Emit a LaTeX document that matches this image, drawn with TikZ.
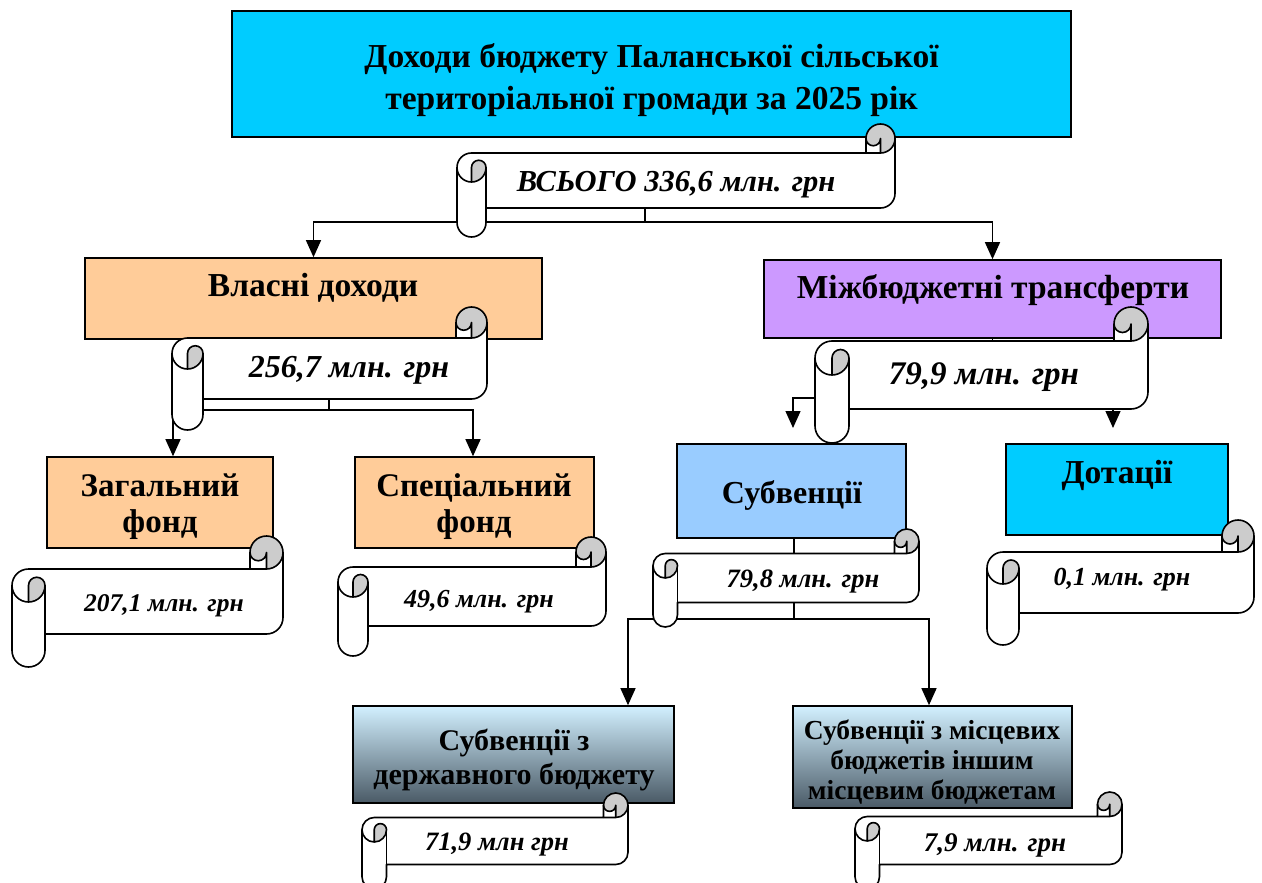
\documentclass[tikz,border=0pt]{standalone}
\usepackage{fontspec}
\setmainfont{Liberation Serif}
\usetikzlibrary{arrows.meta}
\definecolor{peach}{HTML}{FFCC99}
\definecolor{lilac}{HTML}{CC99FF}
\definecolor{skyb}{HTML}{99CCFF}
\definecolor{cyanb}{HTML}{00CCFF}
\definecolor{curlg}{HTML}{CCCCCC}
\definecolor{gtop}{HTML}{D2F0FF}
\definecolor{gbot}{HTML}{4A5A66}
\newcommand\fsz[2]{\fontsize{#1}{#2}\selectfont}
\newcommand\scrollshape[5]{%
 \begingroup
  \pgfmathsetmacro\SgL{#1}%
  \pgfmathsetmacro\SgT{#2}%
  \pgfmathsetmacro\SgR{#3}%
  \pgfmathsetmacro\SgB{#4}%
  \pgfmathsetmacro\SgA{#5}%
  \pgfmathsetmacro\SgH{#5/2}%
  \pgfmathsetmacro\SgQ{#5/4}%
  \pgfmathsetmacro\SyA{\SgT+\SgH}%
  \pgfmathsetmacro\SyB{\SgT+\SgA}%
  \pgfmathsetmacro\SyC{\SgT+1.5*\SgA}%
  \pgfmathsetmacro\SyD{\SgT+2*\SgA}%
  \pgfmathsetmacro\SyF{\SgB-\SgA}%
  \pgfmathsetmacro\SyG{\SgB-\SgH}%
  \pgfmathsetmacro\SyE{\SyF-\SgH}%
  \pgfmathsetmacro\SxC{\SgR-\SgA}%
  \pgfmathsetmacro\SxD{\SgR-\SgH}%
  \pgfmathsetmacro\SxA{\SgL+\SgH}%
  \pgfmathsetmacro\SxB{\SgL+\SgA}%
  \fill[white] (\SgR,\SyA) arc[start angle=0,delta angle=90,radius=\SgH] -- (\SxD,\SyA)
     arc[start angle=0,delta angle=180,radius=\SgQ] -- (\SxC,\SyB) -- (\SxA,\SyB)
     arc[start angle=270,delta angle=-90,radius=\SgH] -- (\SgL,\SyG)
     arc[start angle=180,delta angle=-180,radius=\SgH] -- (\SxB,\SyF) -- (\SxD,\SyF)
     arc[start angle=90,delta angle=-90,radius=\SgH] -- cycle;
  \fill[curlg] (\SxA,\SyD) arc[start angle=90,delta angle=-90,radius=\SgH]
     arc[start angle=0,delta angle=-180,radius=\SgQ] -- cycle;
  \fill[curlg] (\SxD,\SyB) arc[start angle=90,delta angle=-270,radius=\SgH]
     arc[start angle=180,delta angle=-180,radius=\SgQ] -- cycle;
  \draw[scrollline] (\SgL,\SyC) arc[start angle=180,delta angle=90,radius=\SgH] -- (\SxC,\SyB) -- (\SxC,\SyA)
     arc[start angle=180,delta angle=180,radius=\SgH] -- (\SgR,\SyE)
     arc[start angle=0,delta angle=90,radius=\SgH] -- (\SxB,\SyF) -- (\SxB,\SyG)
     arc[start angle=0,delta angle=180,radius=\SgH] -- cycle;
  \draw[scrollline] (\SxC,\SyB) -- (\SxD,\SyB) arc[start angle=90,delta angle=-90,radius=\SgH];
  \draw[scrollline] (\SxD,\SyB) -- (\SxD,\SyA) arc[start angle=0,delta angle=180,radius=\SgQ];
  \draw[scrollline] (\SxA,\SyD) -- (\SxA,\SyC) arc[start angle=180,delta angle=180,radius=\SgQ]
     arc[start angle=0,delta angle=180,radius=\SgH];
  \draw[scrollline] (\SxB,\SyC) -- (\SxB,\SyF);
 \endgroup}
\begin{document}
\begin{tikzpicture}[x=1pt,y=-1pt,
  box/.style={draw=black, line width=1.6pt, inner sep=0pt},
  gbox/.style={box, top color=gtop, bottom color=gbot},
  scrollline/.style={draw=black, line width=1.6pt, line join=round},
  conn/.style={draw=black, line width=1.3pt},
  arr/.style={conn, -{Triangle[width=15pt,length=17pt]}},
  lbl/.style={inner sep=0pt, align=center, font=\bfseries},
  amt/.style={inner sep=0pt, align=center, font=\bfseries\itshape}]
\useasboundingbox (0,0) rectangle (1262,883);
\fill[white] (0,0) rectangle (1262,883);

% boxes
\node[box, fill=cyanb, minimum width=839pt, minimum height=126pt] (title) at (651.5,74) {};
\node[box, fill=peach, minimum width=457pt, minimum height=81pt] (vlasni) at (313.5,298.5) {};
\node[box, fill=lilac, minimum width=457pt, minimum height=78pt] (mizh) at (992.5,299) {};
\node[box, fill=peach, minimum width=226pt, minimum height=91pt] (zag) at (160,502.5) {};
\node[box, fill=peach, minimum width=239pt, minimum height=91pt] (spec) at (474.5,502.5) {};
\node[box, fill=skyb, minimum width=229pt, minimum height=94pt] (subv) at (791.5,491) {};
\node[box, fill=cyanb, minimum width=222pt, minimum height=91pt] (dot) at (1117,489.5) {};
\node[gbox, minimum width=321pt, minimum height=97pt] (derzh) at (513.5,754.5) {};
\node[gbox, minimum width=279pt, minimum height=102pt] (mists) at (932.5,757) {};

% connector coordinates
\coordinate (s1bot) at (645,208);
\coordinate (j1) at (645,222);
\coordinate (s2bot) at (329,399);
\coordinate (j2) at (329,410);
\coordinate (j3) at (992.5,398);
\coordinate (asubv) at (793,428);
\coordinate (adot) at (1113,428);
\coordinate (j4) at (794,619);

% connectors
\draw[conn] (s1bot) -- (j1);
\draw[arr] (j1) -| (vlasni.north);
\draw[arr] (j1) -| (mizh.north);
\draw[conn] (s2bot) -- (j2);
\draw[arr] (j2) -| ([xshift=13pt]zag.north);
\draw[arr] (j2) -| ([xshift=-1.5pt]spec.north);
\draw[conn] (mizh.south) -- (j3);
\draw[arr] (j3) -| (asubv);
\draw[arr] (j3) -| (adot);
\draw[conn] ([xshift=2.5pt]subv.south) -- (j4);
\draw[arr] (j4) -| ([xshift=114.5pt]derzh.north);
\draw[arr] (j4) -| ([xshift=-3.5pt]mists.north);

% scrolls
\scrollshape{457}{124}{895}{237}{29}
\scrollshape{172}{307}{487}{430}{31}
\scrollshape{12}{536}{283}{667}{33}
\scrollshape{338}{537}{606}{656}{30}
\scrollshape{815}{307}{1148}{443}{34}
\scrollshape{653}{529}{919}{627}{24.5}
\scrollshape{362}{793}{628}{889}{24.5}
\scrollshape{855}{792}{1122}{889}{24.5}
\scrollshape{987}{520}{1254}{645}{32}

% labels
\node[lbl, font=\bfseries\fsz{33.5}{42}] (titlet) at (651.5,80) {Доходи бюджету Паланської сільської\\територіальної громади за 2025 рік};
\node[amt, font=\bfseries\itshape\fsz{30.5}{34}] (s1t) at (676,185) {ВСЬОГО 336,6 млн. грн};
\node[lbl, font=\bfseries\fsz{33.5}{38}] (vlasnit) at (313,288) {Власні доходи};
\node[lbl, font=\bfseries\fsz{33.5}{38}] (mizht) at (993,290) {Міжбюджетні трансферти};
\node[amt, font=\bfseries\itshape\fsz{32}{36}] (s2t) at (349,370) {256,7 млн. грн};
\node[amt, font=\bfseries\itshape\fsz{33}{36}] (s5t) at (984,377) {79,9 млн. грн};
\node[lbl, font=\bfseries\fsz{33}{36}] (zagt) at (160,507) {Загальний\\фонд};
\node[lbl, font=\bfseries\fsz{33}{36}] (spect) at (474,507) {Спеціальний\\фонд};
\node[lbl, font=\bfseries\fsz{32}{36}] (subvt) at (792,495) {Субвенції};
\node[lbl, font=\bfseries\fsz{33.5}{38}] (dott) at (1117,475) {Дотації};
\node[amt, font=\bfseries\itshape\fsz{25.5}{28}] (s3t) at (164,606) {207,1 млн. грн};
\node[amt, font=\bfseries\itshape\fsz{26}{28}] (s4t) at (479,602) {49,6 млн. грн};
\node[amt, font=\bfseries\itshape\fsz{26.5}{28}] (s6t) at (803,582) {79,8 млн. грн};
\node[amt, font=\bfseries\itshape\fsz{26}{28}] (s9t) at (1122,580) {0,1 млн. грн};
\node[lbl, font=\bfseries\fsz{30}{34}] (derzht) at (514,760) {Субвенції з\\державного бюджету};
\node[lbl, font=\bfseries\fsz{27.5}{30}] (mistst) at (932,762) {Субвенції з місцевих\\бюджетів іншим\\місцевим бюджетам};
\node[amt, font=\bfseries\itshape\fsz{26.5}{28}] (s7t) at (497,845) {71,9 млн грн};
\node[amt, font=\bfseries\itshape\fsz{27}{28}] (s8t) at (995,845) {7,9 млн. грн};
\end{tikzpicture}
\end{document}
